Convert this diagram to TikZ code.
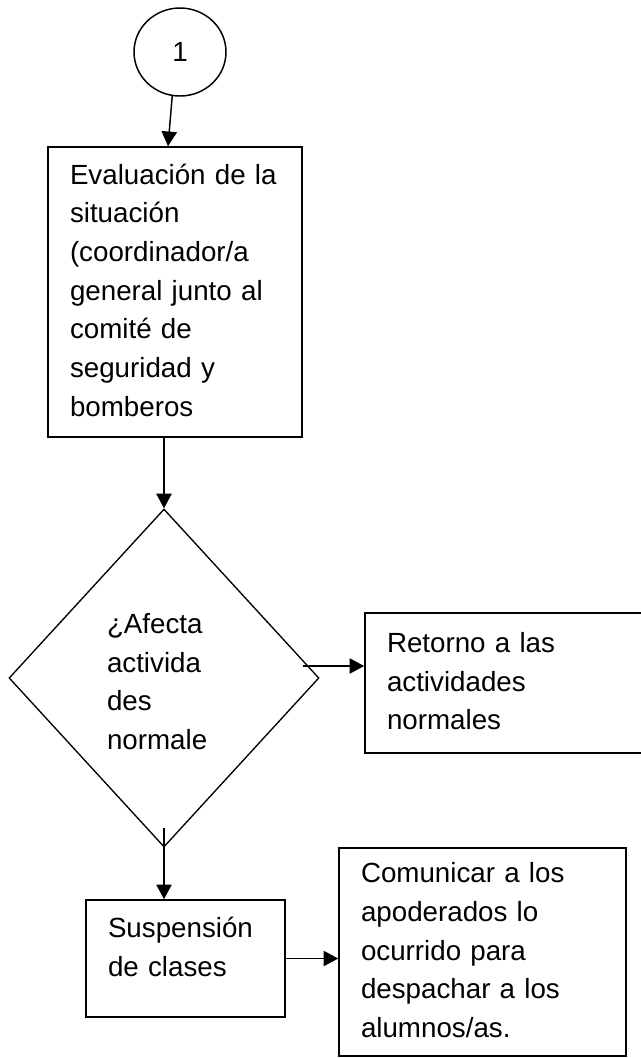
\documentclass[tikz,border=0pt]{standalone}
\usepackage{fontspec}
\setmainfont{Liberation Sans}
\usetikzlibrary{shapes.geometric,arrows.meta}
\begin{document}
\begin{tikzpicture}[x=0.75pt,y=-0.75pt,
    every node/.style={font=\fontsize{20.8pt}{29pt}\selectfont},
    stepbox/.style={draw,line width=1.2pt,rectangle,align=left,inner xsep=16.5pt,inner ysep=0pt,text height=16pt,text depth=#1},
    decision/.style={draw,line width=1pt,diamond,align=left,inner sep=0pt,text height=24pt,text depth=91pt},
    conn/.style={draw,line width=1.1pt,ellipse,inner sep=0pt},
    arr/.style={-{Triangle[length=11pt,width=11.5pt]},line width=1.1pt}]
  \useasboundingbox (0,0) rectangle (641,1058);
  \node[conn,minimum width=69pt,minimum height=66pt] (start) at (180,52) {1};
  \node[stepbox=178pt,text width=157.5pt,minimum width=190.5pt,minimum height=217.5pt] (eval) at (175,292)
    {Evaluación de la\\situación\\(coordinador/a\\general junto al\\comité de\\seguridad y\\bomberos};
  \node[decision,text width=85.5pt,minimum width=232.5pt,minimum height=253.5pt] (dec) at (164,678)
    {¿Afecta\\activida\\des\\normale};
  \node[stepbox=62pt,text width=179.25pt,minimum width=212.25pt,minimum height=105pt] (ret) at (506.5,683)
    {Retorno a las\\actividades\\normales};
  \node[stepbox=47.25pt,text width=116.25pt,minimum width=149.25pt,minimum height=87.75pt] (susp) at (185.5,958.5)
    {Suspensión\\de clases};
  \node[stepbox=120pt,text width=182.25pt,minimum width=215.25pt,minimum height=156pt] (com) at (482.5,952)
    {Comunicar a los\\apoderados lo\\ocurrido para\\despachar a los\\alumnos/as.};
  \draw[arr] (start.-100) -- ([xshift=-5.25pt]eval.north);
  \draw[arr] (dec.north |- eval.south) -- (dec.north);
  \draw[arr] ([xshift=-12.75pt,yshift=9pt]dec.east) coordinate (d1) -- (d1 -| ret.west);
  \draw[arr] ([yshift=15pt]dec.south) coordinate (d2) -- (d2 |- susp.north);
  \draw[arr] (susp.east) -- (susp.east -| com.west);
\end{tikzpicture}
\end{document}
